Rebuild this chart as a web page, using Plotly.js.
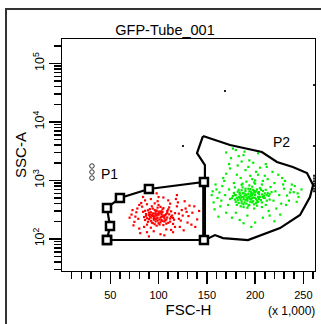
<!DOCTYPE html>
<html><head><meta charset="utf-8">
<script src="https://cdn.plot.ly/plotly-3.0.1.min.js"></script>
<style>html,body{margin:0;padding:0;background:#fff}#chart{width:321px;height:324px}</style>
</head><body><div id="chart"></div>
<script>
// ---- data (FSC-H in thousands, SSC-A linear) ----
const xMajorTicks = [50, 100, 150, 200, 250];
const xMajorLabels = ['50', '100', '150', '200', '250'];
const xMinorTicks = [10,20,30,40,60,70,80,90,110,120,130,140,160,170,180,190,210,220,230,240,260];
const yMajorTicks = [100, 1000, 10000, 100000];
const yMajorLabels = ['10<sup>2</sup>', '10<sup>3</sup>', '10<sup>4</sup>', '10<sup>5</sup>'];
const yMinorTicks = [30,40,50,60,70,80,90,200,300,400,500,600,700,800,900,2000,3000,4000,5000,6000,7000,8000,9000,20000,30000,40000,50000,60000,70000,80000,90000,200000];

const gateP1X = [46.6, 49.7, 46.6, 60, 90, 147, 147, 46.6];
const gateP1Y = [95.5, 166, 337, 500, 713, 938, 95.5, 95.5];
const gateP2X = [146, 139.8, 148, 148, 148, 158.4, 166.7, 192.6, 207, 225.8, 246.5, 256.8, 260, 253.7, 239, 222.6, 207, 174, 146];
const gateP2Y = [5740, 2940, 1832, 938, 95.5, 116, 103, 95.5, 116, 153, 256, 520, 834, 1337, 1693, 2062, 3060, 4030, 5740];
const sharedEdgeX = [147, 147];
const sharedEdgeY = [95.5, 938];

const redPoints = [[98,250],[102,231],[95,270],[108,215],[91,240],[104,288],[99,205],[111,262],[88,225],[96,312],[106,198],[101,275],[93,190],[113,238],[97,221],[105,335],[90,280],[100,185],[109,300],[94,246],[103,210],[87,265],[115,228],[99,342],[92,204],[107,255],[96,178],[110,318],[85,236],[102,295],[98,168],[112,197],[91,322],[104,240],[95,212],[117,275],[100,258],[89,196],[106,226],[93,360],[108,182],[97,290],[101,214],[86,302],[114,250],[99,230],[94,272],[105,172],[90,218],[111,345],[103,264],[96,244],[88,175],[109,232],[98,305],[102,192],[93,255],[116,212],[100,380],[92,285],[107,207],[95,228],[104,318],[87,248],[110,188],[99,268],[103,240],[97,199],[113,295],[91,262],[106,244],[94,330],[101,176],[89,308],[108,266],[96,219],[100,293],[105,251],[92,232],[115,180],[98,222],[102,352],[94,186],[109,279],[90,255],[104,203],[97,264],[112,222],[86,210],[103,285],
[72,260],[78,330],[75,195],[82,410],[80,150],[70,230],[84,520],[120,420],[125,250],[130,190],[128,330],[135,280],[140,215],[122,160],[118,480],[126,140],[132,370],[138,160],[142,300],[119,560],[81,125],[77,285],[74,170],[83,355],[79,220],[86,455],[88,130],[92,480],[95,135],[99,440],[102,120],[105,510],[108,145],[112,400],[115,130],[119,360],[123,205],[127,440],[131,245],[134,175],[137,360],[124,310],[121,270],[117,160],[88,390],[84,290],[80,380],[76,240],[73,310],[98,600],[106,115],[90,110],[96,405],[113,142],[121,220],[129,290],[85,160],[92,155],[110,455],[100,520]];

const greenPoints = [[195,540],[188,610],[201,480],[183,520],[207,575],[192,450],[198,690],[186,405],[204,630],[179,560],[210,500],[194,380],[190,720],[200,560],[185,470],[213,610],[197,420],[182,640],[206,460],[193,590],[188,350],[202,700],[176,500],[209,545],[196,640],[184,580],[199,390],[191,510],[215,470],[187,760],[203,520],[180,430],[196,470],[208,660],[189,550],[194,820],[201,410],[183,690],[212,560],[186,520],[198,600],[192,340],[205,740],[178,610],[197,500],[190,460],[217,630],[185,360],[200,880],[193,530],[207,420],[181,500],[195,710],[204,580],[188,480],[199,330],[211,690],[184,620],[196,560],[191,400],[209,500],[186,840],[202,450],[179,470],[194,650],[205,520],[190,590],[198,440],[214,540],[183,410],[197,780],[188,520],[203,610],[192,480],[207,350],[180,560],[200,500],[195,430],[186,680],[210,600],[193,370],[199,660],[184,500],[206,690],[189,420],[196,600],[202,370],[177,540],[212,450],[191,560],[198,510],[185,550],[204,480],[193,720],[188,390],[215,580],[200,620],[182,460],[195,480],[208,520],[190,660],[197,560],[187,600],[203,430],[194,500],[181,380],[211,380],[199,920],[186,440],[201,650],
[160,700],[165,450],[158,320],[168,980],[155,560],[170,1300],[162,240],[172,380],[166,800],[157,420],[220,900],[225,560],[230,720],[235,450],[240,630],[228,1100],[222,330],[232,380],[238,850],[245,520],[248,700],[226,260],[218,1400],[215,250],[210,1200],[205,1650],[198,2000],[190,1500],[182,1800],[175,2400],[170,3000],[180,3300],[188,2700],[195,1200],[200,1000],[208,980],[185,1100],[178,900],[173,700],[170,280],[176,230],[184,210],[192,250],[200,190],[208,230],[214,300],[220,200],[196,160],[188,185],[180,280],[163,620],[159,850],[167,1100],[174,1600],[181,1250],[186,2100],[193,1700],[201,1400],[212,1700],[224,1250],[231,980],[236,620],[243,430],[241,800],[233,550],[227,400],[219,450],[216,770],[213,1050],[207,850],[203,1250],[197,1050],[191,950],[187,880],[179,760],[174,480],[169,560],[164,360],[161,500],[156,650],[173,1900],[183,2600],[194,2200],[203,2900],[177,3500],[189,3100],[211,1900],[221,650],[229,850],[237,700],[244,600]];

const otherX = [168.8, 125.3, 261, 261, 261, 261, 261, 261, 261, 261, 261];
const otherY = [33800, 3870, 42800, 3870, 650, 720, 800, 880, 970, 1080, 1200];
const iconX = [31, 31, 31];
const iconY = [1762, 1391, 1098];

const FONT = 'Liberation Sans, Arial, sans-serif';

const traces = [
  {type:'scatter', mode:'markers', x: redPoints.map(p=>p[0]), y: redPoints.map(p=>p[1]),
   marker:{color:'#ff0000', size:2.2, symbol:'square', line:{width:0}}, hoverinfo:'skip'},
  {type:'scatter', mode:'markers', x: greenPoints.map(p=>p[0]), y: greenPoints.map(p=>p[1]),
   marker:{color:'#00ee00', size:2.2, symbol:'square', line:{width:0}}, hoverinfo:'skip'},
  {type:'scatter', mode:'markers', x: otherX, y: otherY,
   marker:{color:'#222', size:2, symbol:'square', line:{width:0}}, hoverinfo:'skip'},
  {type:'scatter', mode:'lines', x: gateP2X, y: gateP2Y, line:{color:'#000', width:2.2}, hoverinfo:'skip'},
  {type:'scatter', mode:'lines', x: sharedEdgeX, y: sharedEdgeY, line:{color:'#000', width:3.5}, hoverinfo:'skip'},
  {type:'scatter', mode:'lines+markers', x: gateP1X, y: gateP1Y, line:{color:'#000', width:2.2},
   marker:{symbol:'square', size:8, color:'#fff', line:{color:'#000', width:2.5}}, hoverinfo:'skip'},
  {type:'scatter', mode:'markers', x: iconX, y: iconY,
   marker:{symbol:'circle-open', size:4.5, color:'#333', line:{width:1}}, hoverinfo:'skip'}
];

const layout = {
  width: 321, height: 324,
  margin: {l: 62, r: 6, t: 39, b: 53},
  paper_bgcolor: '#fff', plot_bgcolor: '#fff',
  showlegend: false,
  font: {family: FONT, color: '#000'},
  title: {text: 'GFP-Tube_001', x: 165/321, xanchor: 'center', y: 1 - 30/324, yanchor: 'middle',
          font: {family: FONT, size: 14.5, color: '#000'}},
  xaxis: {range: [0, 262], showgrid: false, zeroline: false,
          showline: true, mirror: true, linecolor: '#000', linewidth: 1.2,
          ticks: 'outside', ticklen: 12, tickwidth: 1.5, tickcolor: '#000',
          tickmode: 'array', tickvals: xMajorTicks, ticktext: xMajorLabels, ticklabelstandoff: 2,
          tickfont: {family: FONT, size: 11, color: '#000'},
          minor: {tickmode: 'array', tickvals: xMinorTicks, ticks: 'outside', ticklen: 7, tickwidth: 1.5, tickcolor: '#000', showgrid: false},
          title: {text: 'FSC-H', standoff: 3, font: {family: FONT, size: 15, color: '#000'}},
          automargin: false, fixedrange: true},
  yaxis: {type: 'log', range: [1.45, 5.4185], showgrid: false, zeroline: false,
          showline: true, mirror: true, linecolor: '#000', linewidth: 1.2,
          ticks: 'outside', ticklen: 12, tickwidth: 1.5, tickcolor: '#000',
          tickmode: 'array', tickvals: yMajorTicks, ticktext: yMajorLabels, tickangle: -90,
          tickfont: {family: FONT, size: 12.5, color: '#000'},
          minor: {tickmode: 'array', tickvals: yMinorTicks, ticks: 'outside', ticklen: 7, tickwidth: 1.5, tickcolor: '#000', showgrid: false},
          title: {text: 'SSC-A', standoff: 0, font: {family: FONT, size: 15, color: '#000'}},
          automargin: false, fixedrange: true},
  annotations: [
    {text: '(x 1,000)', xref: 'paper', yref: 'paper', x: (291-62)/253, y: (271-311)/232,
     xanchor: 'center', yanchor: 'middle', showarrow: false, font: {family: FONT, size: 12, color: '#000'}},
    {text: 'P1', xref: 'x', yref: 'y', x: 49.7, y: Math.log10(1285), xanchor: 'center', yanchor: 'middle',
     showarrow: false, font: {family: FONT, size: 14, color: '#000'}},
    {text: 'P2', xref: 'x', yref: 'y', x: 226.8, y: Math.log10(4530), xanchor: 'center', yanchor: 'middle',
     showarrow: false, font: {family: FONT, size: 14, color: '#000'}}
  ],
  shapes: [
    {type: 'rect', xref: 'paper', yref: 'paper', x0: (6-62)/253, x1: 1.08, y0: -0.3, y1: (271-9)/232,
     line: {color: '#333', width: 2}, layer: 'below'}
  ]
};

Plotly.newPlot('chart', traces, layout, {displayModeBar: false, staticPlot: true});
</script></body></html>
